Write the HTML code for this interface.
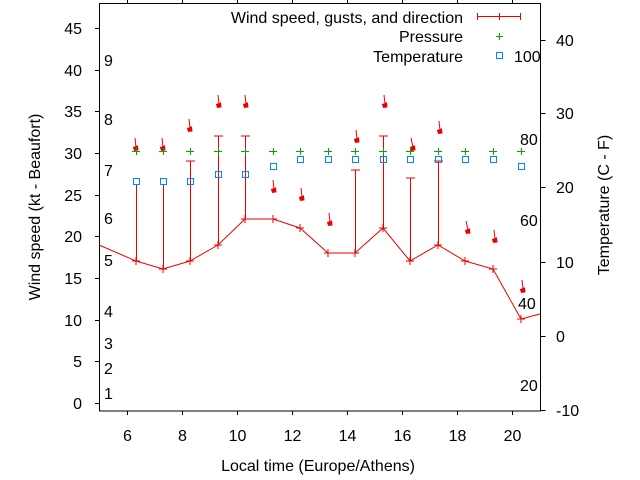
<!DOCTYPE html>
<html><head><meta charset="utf-8"><style>
html,body{margin:0;padding:0;background:#fff;}
svg{display:block;font-family:"Liberation Sans",sans-serif;font-size:16px;}
</style></head><body>
<svg width="640" height="480" viewBox="0 0 640 480">
<rect x="0" y="0" width="640" height="480" fill="#fff"/>
<g stroke="#000" stroke-width="1" fill="none">
<rect x="99.5" y="3.5" width="441" height="407.5"/>
<path d="M95 403.5h4.5M95 361.5h4.5M95 320.5h4.5M95 278.5h4.5M95 236.5h4.5M95 195.5h4.5M95 153.5h4.5M95 111.5h4.5M95 70.5h4.5M95 28.5h4.5"/>
<path d="M540.5 410.5h5M540.5 336.5h5M540.5 262.5h5M540.5 187.5h5M540.5 113.5h5M540.5 40.5h5"/>
<path d="M127.5 411v4M182.5 411v4M237.5 411v4M292.5 411v4M347.5 411v4M402.5 411v4M457.5 411v4M512.5 411v4"/>
<path d="M127.5 3.5v-4M182.5 3.5v-4M237.5 3.5v-4M292.5 3.5v-4M347.5 3.5v-4M402.5 3.5v-4M457.5 3.5v-4M512.5 3.5v-4"/>
</g>
<g fill="#000" text-anchor="end">
<text x="82" y="409">0</text><text x="82" y="367">5</text><text x="82" y="326">10</text><text x="82" y="284">15</text><text x="82" y="242">20</text><text x="82" y="201">25</text><text x="82" y="159">30</text><text x="82" y="117">35</text><text x="82" y="76">40</text><text x="82" y="34">45</text>
</g>
<g fill="#000">
<text x="556" y="416">-10</text><text x="556" y="342">0</text><text x="556" y="268">10</text><text x="556" y="193">20</text><text x="556" y="119">30</text><text x="556" y="46">40</text>
<text x="104" y="399">1</text><text x="104" y="374">2</text><text x="104" y="349">3</text><text x="104" y="317">4</text><text x="104" y="266">5</text><text x="104" y="224">6</text><text x="104" y="176">7</text><text x="104" y="125">8</text><text x="104" y="66">9</text>
<text x="520" y="391">20</text><text x="518" y="309">40</text><text x="520" y="226">60</text><text x="520" y="145">80</text><text x="514" y="62">100</text>
</g>
<g fill="#000" text-anchor="middle">
<text x="127.5" y="441">6</text><text x="182.5" y="441">8</text><text x="237.5" y="441">10</text><text x="292.5" y="441">12</text><text x="347.5" y="441">14</text><text x="402.5" y="441">16</text><text x="457.5" y="441">18</text><text x="512.5" y="441">20</text>
<text x="318" y="471">Local time (Europe/Athens)</text>
<text transform="translate(40,207) rotate(-90)">Wind speed (kt - Beaufort)</text>
<text transform="translate(609,205) rotate(-90)">Temperature (C - F)</text>
</g>
<g fill="#000" text-anchor="end">
<text x="463" y="23">Wind speed, gusts, and direction</text>
<text x="463" y="42">Pressure</text>
<text x="463" y="62">Temperature</text>
</g>
<g stroke="#e00" stroke-width="1" fill="none">
<path d="M477 16.5h44M477.5 13v7M520.5 13v7M499.5 13v7"/>
<polyline points="99,245 136,261 163,269 190,261 218,245 245,219 273,219 300,228 328,253 355,253 383,228 410,261 438,245 465,261 493,269 521,319 540,314"/>
<path d="M132 261h8M136 257v8M159 269h8M163 265v8M186 261h8M190 257v8M214 245h8M218 241v8M241 219h8M245 215v8M269 219h8M273 215v8M296 228h8M300 224v8M324 253h8M328 249v8M351 253h8M355 249v8M379 228h8M383 224v8M406 261h8M410 257v8M434 245h8M438 241v8M461 261h8M465 257v8M489 269h8M493 265v8M517 319h8M521 315v8"/>
<path d="M136.5 261V185M163.5 269V185M190.5 261V161M186 161h9M218.5 245V136M214 136h9M245.5 219V136M241 136h9M355.5 253V170M351 170h9M383.5 228V136M379 136h9M410.5 261V178M406 178h9M438.5 245V161M434 161h9"/>
</g>
<g stroke="#e00" stroke-width="1" fill="#e00">
<g transform="translate(136,149)"><path d="M-1,-11 L0,-2" fill="none"/><path d="M-2.5,-1.5 L1.5,-3 L2,1 L-1.5,1.5Z"/></g>
<g transform="translate(163,149)"><path d="M-1,-11 L0,-2" fill="none"/><path d="M-2.5,-1.5 L1.5,-3 L2,1 L-1.5,1.5Z"/></g>
<g transform="translate(190,130)"><path d="M-1,-11 L0,-2" fill="none"/><path d="M-2.5,-1.5 L1.5,-3 L2,1 L-1.5,1.5Z"/></g>
<g transform="translate(219,106)"><path d="M-1,-11 L0,-2" fill="none"/><path d="M-2.5,-1.5 L1.5,-3 L2,1 L-1.5,1.5Z"/></g>
<g transform="translate(246,106)"><path d="M-1,-11 L0,-2" fill="none"/><path d="M-2.5,-1.5 L1.5,-3 L2,1 L-1.5,1.5Z"/></g>
<g transform="translate(274,191)"><path d="M-1,-11 L0,-2" fill="none"/><path d="M-2.5,-1.5 L1.5,-3 L2,1 L-1.5,1.5Z"/></g>
<g transform="translate(302,199)"><path d="M-1,-11 L0,-2" fill="none"/><path d="M-2.5,-1.5 L1.5,-3 L2,1 L-1.5,1.5Z"/></g>
<g transform="translate(330,224)"><path d="M-1,-11 L0,-2" fill="none"/><path d="M-2.5,-1.5 L1.5,-3 L2,1 L-1.5,1.5Z"/></g>
<g transform="translate(357,141)"><path d="M-1,-11 L0,-2" fill="none"/><path d="M-2.5,-1.5 L1.5,-3 L2,1 L-1.5,1.5Z"/></g>
<g transform="translate(385,106)"><path d="M-1,-11 L0,-2" fill="none"/><path d="M-2.5,-1.5 L1.5,-3 L2,1 L-1.5,1.5Z"/></g>
<g transform="translate(413,149)"><path d="M-2,-11 L0,-2" fill="none"/><path d="M-2.5,-1.5 L1.5,-3 L2,1 L-1.5,1.5Z"/></g>
<g transform="translate(440,132)"><path d="M-1,-11 L0,-2" fill="none"/><path d="M-2.5,-1.5 L1.5,-3 L2,1 L-1.5,1.5Z"/></g>
<g transform="translate(468,232)"><path d="M-2,-11 L0,-2" fill="none"/><path d="M-2.5,-1.5 L1.5,-3 L2,1 L-1.5,1.5Z"/></g>
<g transform="translate(495,241)"><path d="M-1,-11 L0,-2" fill="none"/><path d="M-2.5,-1.5 L1.5,-3 L2,1 L-1.5,1.5Z"/></g>
<g transform="translate(523,291)"><path d="M-1,-11 L0,-2" fill="none"/><path d="M-2.5,-1.5 L1.5,-3 L2,1 L-1.5,1.5Z"/></g>
</g>
<g stroke="#0a0" stroke-width="1">
<path d="M496 36.5h7M499.5 33v7"/>
<path d="M132 151.5h8M136.5 148v7M159 151.5h8M163.5 148v7M186 151.5h8M190.5 148v7M214 151.5h8M218.5 148v7M241 151.5h8M245.5 148v7M269 151.5h8M273.5 148v7M296 151.5h8M300.5 148v7M324 151.5h8M328.5 148v7M351 151.5h8M355.5 148v7M379 151.5h8M383.5 148v7M406 151.5h8M410.5 148v7M434 151.5h8M438.5 148v7M461 151.5h8M465.5 148v7M489 151.5h8M493.5 148v7M517 151.5h8M521.5 148v7"/>
</g>
<g stroke="#08f" stroke-width="1" fill="none">
<rect x="496.5" y="52.5" width="6" height="6"/>
<rect x="133.5" y="178.5" width="6" height="6"/>
<rect x="160.5" y="178.5" width="6" height="6"/>
<rect x="187.5" y="178.5" width="6" height="6"/>
<rect x="215.5" y="171.5" width="6" height="6"/>
<rect x="242.5" y="171.5" width="6" height="6"/>
<rect x="270.5" y="163.5" width="6" height="6"/>
<rect x="297.5" y="156.5" width="6" height="6"/>
<rect x="325.5" y="156.5" width="6" height="6"/>
<rect x="352.5" y="156.5" width="6" height="6"/>
<rect x="380.5" y="156.5" width="6" height="6"/>
<rect x="407.5" y="156.5" width="6" height="6"/>
<rect x="435.5" y="156.5" width="6" height="6"/>
<rect x="462.5" y="156.5" width="6" height="6"/>
<rect x="490.5" y="156.5" width="6" height="6"/>
<rect x="518.5" y="163.5" width="6" height="6"/>
</g>
</svg>
</body></html>
